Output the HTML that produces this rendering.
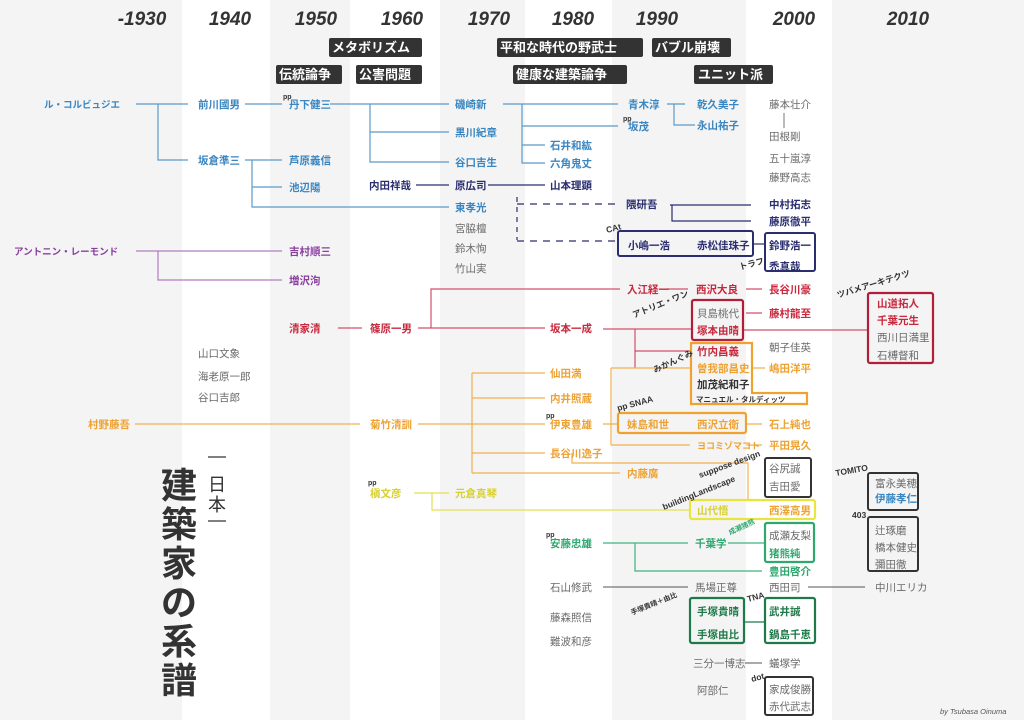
<!DOCTYPE html>
<html><head><meta charset="utf-8"><style>
html,body{margin:0;padding:0;width:1024px;height:720px;overflow:hidden;background:#f4f4f5}
svg{display:block}
text{font-family:"Liberation Sans","Noto Sans CJK JP",sans-serif;font-size:10.5px;font-weight:bold}
.h{font-size:19px;font-style:italic;fill:#333;text-anchor:middle}
.tg{fill:#fff;font-size:13px}
.b{fill:#3a86c0}.n{fill:#2a2d6e}.p{fill:#8a3fa0}.r{fill:#c8283c}.o{fill:#eea232}.y{fill:#d8d030}.g{fill:#2fa870}.dg{fill:#1f7a4a}.gr{fill:#6a6a6a;font-weight:normal}.k{fill:#333}
.s{font-size:7px;fill:#333}
.lb{font-size:8.5px;fill:#333}
.tt{font-size:36px;font-weight:bold;fill:#333}
</style></head><body>
<svg width="1024" height="720" viewBox="0 0 1024 720">
<rect x="0" y="0" width="1024" height="720" fill="#f4f4f5"/>
<rect x="182" y="0" width="88" height="720" fill="#fff"/>
<rect x="350" y="0" width="90" height="720" fill="#fff"/>
<rect x="525" y="0" width="87" height="720" fill="#fff"/>
<rect x="746" y="0" width="86" height="720" fill="#fff"/>

<text class="h" x="142" y="25">-1930</text>
<text class="h" x="230" y="25">1940</text>
<text class="h" x="316" y="25">1950</text>
<text class="h" x="402" y="25">1960</text>
<text class="h" x="489" y="25">1970</text>
<text class="h" x="573" y="25">1980</text>
<text class="h" x="657" y="25">1990</text>
<text class="h" x="794" y="25">2000</text>
<text class="h" x="908" y="25">2010</text>

<g fill="#333">
<rect x="329" y="38" width="93" height="19" rx="2"/>
<rect x="276" y="65" width="66" height="19" rx="2"/>
<rect x="356" y="65" width="66" height="19" rx="2"/>
<rect x="497" y="38" width="146" height="19" rx="2"/>
<rect x="652" y="38" width="79" height="19" rx="2"/>
<rect x="513" y="65" width="114" height="19" rx="2"/>
<rect x="694" y="65" width="79" height="19" rx="2"/>
</g>
<text class="tg" x="332" y="52">メタボリズム</text>
<text class="tg" x="279" y="79">伝統論争</text>
<text class="tg" x="359" y="79">公害問題</text>
<text class="tg" x="500" y="52">平和な時代の野武士</text>
<text class="tg" x="655" y="52">バブル崩壊</text>
<text class="tg" x="516" y="79">健康な建築論争</text>
<text class="tg" x="698" y="79">ユニット派</text>

<g stroke="#5a9ac8" stroke-width="1.2" fill="none">
<path d="M136 104H188M158 104V160H188"/>
<path d="M245 104H282"/>
<path d="M330 104H449M370 104V162H449M370 132H449"/>
<path d="M503 104H618M522 104V163H545M522 126H618M522 145H545"/>
<path d="M667 104H685M674 104V125H695"/>
<path d="M245 160H282M252 160V207H449M252 187H282"/>
</g>
<line x1="784" y1="113" x2="784" y2="128" stroke="#777" stroke-width="1"/>
<g stroke="#2a2d6e" stroke-width="1.2" fill="none">
<path d="M416 185H449M488 185H545"/>
<path d="M517 197V240" stroke-dasharray="5 5"/>
<path d="M517 204H620M517 241H617" stroke-dasharray="7 6"/>
<path d="M670 205H751M672 205V221H751"/>
<path d="M753 244H765"/>
<rect x="618" y="231" width="135" height="25" rx="2" stroke-width="2"/>
<rect x="765" y="233" width="50" height="38" rx="2" stroke-width="2"/>
</g>
<g stroke="#b07cc0" stroke-width="1.2" fill="none">
<path d="M136 251H282M158 251V280H282"/>
</g>
<g stroke="#d0506a" stroke-width="1.2" fill="none">
<path d="M338 328H362M418 328H545M431 328V289H620M667 289H688M746 289H762"/>
<path d="M603 329H692M635 329V368M635 351H692M743 330H868M746 313H762"/>
<rect x="692" y="300" width="51" height="40" rx="2" stroke="#b01e3a" stroke-width="2.2"/>
<rect x="868" y="293" width="65" height="70" rx="2" stroke="#b01e3a" stroke-width="2.2"/>
</g>
<g stroke="#f0b050" stroke-width="1.2" fill="none">
<path d="M135 424H360M418 424H545M472 373V473M472 373H545M472 398H545M472 453H545M472 473H620"/>
<path d="M611 368V445M611 368H690M611 445H690M746 445H762M753 368H765"/>
<path d="M603 424H618M746 424H762"/>
<path d="M572 453V463H748V500"/>
<path d="M691 343H752V393H807V404H691Z" stroke="#eea232" stroke-width="2.2"/>
<rect x="618" y="413" width="128" height="20" rx="2" stroke="#eea232" stroke-width="2.2"/>
</g>
<rect x="765" y="458" width="46" height="39" rx="2" fill="none" stroke="#333" stroke-width="2"/>
<g stroke="#e4e050" stroke-width="1.2" fill="none">
<path d="M414 493H449M432 493V510H690"/>
<rect x="690" y="500" width="125" height="19" rx="2" stroke="#e8e440" stroke-width="2.2"/>
</g>
<rect x="868" y="473" width="50" height="37" rx="2" fill="none" stroke="#333" stroke-width="2"/>
<rect x="868" y="517" width="50" height="54" rx="2" fill="none" stroke="#333" stroke-width="2"/>
<g stroke="#40b080" stroke-width="1.2" fill="none">
<path d="M603 543H688M728 543H765M635 543V571H762"/>
<rect x="765" y="523" width="49" height="39" rx="2" stroke="#2fa870" stroke-width="2.2"/>
</g>
<g stroke="#555" stroke-width="1" fill="none"><path d="M603 587H688M808 587H865M745 663H762"/></g>
<g stroke="#1f7a4a" stroke-width="2.2" fill="none">
<rect x="690" y="598" width="54" height="45" rx="2"/>
<rect x="765" y="598" width="50" height="45" rx="2"/>
<path d="M744 622H765" stroke-width="1.2"/>
</g>
<rect x="765" y="677" width="48" height="38" rx="2" fill="none" stroke="#333" stroke-width="2"/>

<text class="b" x="44" y="108" style="font-size:9.5px">ル・コルビュジエ</text>
<text class="b" x="198" y="108">前川國男</text>
<text class="s" x="283" y="99">pp</text>
<text class="b" x="289" y="108">丹下健三</text>
<text class="b" x="455" y="108">磯崎新</text>
<text class="b" x="455" y="136">黒川紀章</text>
<text class="b" x="455" y="166">谷口吉生</text>
<text class="b" x="628" y="108">青木淳</text>
<text class="s" x="623" y="121">pp</text>
<text class="b" x="628" y="130">坂茂</text>
<text class="b" x="550" y="149">石井和紘</text>
<text class="b" x="550" y="167">六角鬼丈</text>
<text class="b" x="697" y="108">乾久美子</text>
<text class="b" x="697" y="129">永山祐子</text>
<text class="b" x="198" y="164">坂倉準三</text>
<text class="b" x="289" y="164">芦原義信</text>
<text class="b" x="289" y="191">池辺陽</text>
<text class="b" x="455" y="211">東孝光</text>
<text class="gr" x="769" y="108">藤本壮介</text>
<text class="gr" x="769" y="140">田根剛</text>
<text class="gr" x="769" y="162">五十嵐淳</text>
<text class="gr" x="769" y="181">藤野高志</text>
<text class="gr" x="455" y="232">宮脇檀</text>
<text class="gr" x="455" y="252">鈴木恂</text>
<text class="gr" x="455" y="272">竹山実</text>
<text class="n" x="369" y="189">内田祥哉</text>
<text class="n" x="455" y="189">原広司</text>
<text class="n" x="550" y="189">山本理顕</text>
<text class="n" x="626" y="208">隈研吾</text>
<text class="n" x="769" y="208">中村拓志</text>
<text class="n" x="769" y="225">藤原徹平</text>
<text class="n" x="628" y="249">小嶋一浩</text>
<text class="n" x="697" y="249">赤松佳珠子</text>
<text class="n" x="769" y="249">鈴野浩一</text>
<text class="n" x="769" y="270">禿真哉</text>
<text class="lb" x="607" y="233" transform="rotate(-15 607 233)">CAt</text>
<text class="lb" x="740" y="270" transform="rotate(-15 740 270)">トラフ</text>
<text class="p" x="14" y="255" style="font-size:9.5px">アントニン・レーモンド</text>
<text class="p" x="289" y="255">吉村順三</text>
<text class="p" x="289" y="284">増沢洵</text>
<text class="r" x="289" y="332">清家清</text>
<text class="r" x="370" y="332">篠原一男</text>
<text class="r" x="627" y="293">入江経一</text>
<text class="r" x="696" y="293">西沢大良</text>
<text class="r" x="769" y="293">長谷川豪</text>
<text class="r" x="550" y="332">坂本一成</text>
<text class="gr" x="697" y="317">貝島桃代</text>
<text class="r" x="697" y="334">塚本由晴</text>
<text class="r" x="769" y="317">藤村龍至</text>
<text class="r" x="877" y="307">山道拓人</text>
<text class="r" x="877" y="324">千葉元生</text>
<text class="gr" x="877" y="341">西川日満里</text>
<text class="gr" x="877" y="359">石榑督和</text>
<text class="gr" x="769" y="351">朝子佳英</text>
<text class="lb" x="634" y="318" transform="rotate(-22 634 318)">アトリエ・ワン</text>
<text class="lb" x="838" y="298" transform="rotate(-17 838 298)">ツバメアーキテクツ</text>
<text class="o" x="88" y="428">村野藤吾</text>
<text class="o" x="370" y="428">菊竹清訓</text>
<text class="o" x="550" y="377">仙田満</text>
<text class="o" x="550" y="402">内井照蔵</text>
<text class="s" x="546" y="418">pp</text>
<text class="o" x="550" y="428">伊東豊雄</text>
<text class="o" x="550" y="457">長谷川逸子</text>
<text class="o" x="627" y="477">内藤廣</text>
<text class="r" x="697" y="355">竹内昌義</text>
<text class="o" x="697" y="372">曽我部昌史</text>
<text class="k" x="697" y="388">加茂紀和子</text>
<text class="k" x="696" y="402" style="font-size:7.5px">マニュエル・タルディッツ</text>
<text class="o" x="769" y="372">嶋田洋平</text>
<text class="o" x="627" y="428">妹島和世</text>
<text class="o" x="697" y="428">西沢立衛</text>
<text class="o" x="769" y="428">石上純也</text>
<text class="o" x="697" y="449" style="font-size:9px">ヨコミゾマコト</text>
<text class="o" x="769" y="449">平田晃久</text>
<text class="lb" x="655" y="373" transform="rotate(-25 655 373)">みかんぐみ</text>
<text class="lb" x="618" y="411" transform="rotate(-15 618 411)">pp SNAA</text>
<text class="gr" x="769" y="472">谷尻誠</text>
<text class="gr" x="769" y="490">吉田愛</text>
<text class="lb" x="700" y="478" transform="rotate(-20 700 478)">suppose design</text>
<text class="s" x="368" y="485">pp</text>
<text class="y" x="370" y="497">槇文彦</text>
<text class="y" x="455" y="497">元倉真琴</text>
<text class="y" x="697" y="514">山代悟</text>
<text class="o" x="769" y="514">西澤高男</text>
<text class="lb" x="664" y="510" transform="rotate(-22 664 510)">buildingLandscape</text>
<text class="gr" x="875" y="487">富永美穂</text>
<text class="b" x="875" y="502">伊藤孝仁</text>
<text class="lb" x="836" y="476" transform="rotate(-10 836 476)">TOMITO</text>
<text class="gr" x="875" y="534">辻琢磨</text>
<text class="gr" x="875" y="551">橋本健史</text>
<text class="gr" x="875" y="568">彌田徹</text>
<text class="lb" x="852" y="518">403</text>
<text class="s" x="546" y="537">pp</text>
<text class="g" x="550" y="547">安藤忠雄</text>
<text class="g" x="695" y="547">千葉学</text>
<text class="gr" x="769" y="539">成瀬友梨</text>
<text class="g" x="769" y="557">猪熊純</text>
<text class="g" x="769" y="575">豊田啓介</text>
<text class="g" x="730" y="535" style="font-size:7px" transform="rotate(-25 730 535)">成瀬猪熊</text>
<text class="gr" x="550" y="591">石山修武</text>
<text class="gr" x="695" y="591">馬場正尊</text>
<text class="gr" x="769" y="591">西田司</text>
<text class="gr" x="875" y="591">中川エリカ</text>
<text class="dg" x="697" y="615">手塚貴晴</text>
<text class="dg" x="697" y="638">手塚由比</text>
<text class="dg" x="769" y="615">武井誠</text>
<text class="dg" x="769" y="638">鍋島千恵</text>
<text class="lb" x="632" y="615" style="font-size:7px" transform="rotate(-22 632 615)">手塚貴晴＋由比</text>
<text class="lb" x="748" y="602" transform="rotate(-15 748 602)">TNA</text>
<text class="gr" x="550" y="621">藤森照信</text>
<text class="gr" x="550" y="645">難波和彦</text>
<text class="gr" x="693" y="667">三分一博志</text>
<text class="gr" x="769" y="667">蟻塚学</text>
<text class="gr" x="697" y="694">阿部仁</text>
<text class="lb" x="752" y="682" transform="rotate(-15 752 682)">dot</text>
<text class="gr" x="769" y="693">家成俊勝</text>
<text class="gr" x="769" y="710">赤代武志</text>
<text class="gr" x="198" y="357">山口文象</text>
<text class="gr" x="198" y="380">海老原一郎</text>
<text class="gr" x="198" y="401">谷口吉郎</text>

<text class="tt" x="161" y="498">建</text>
<text class="tt" x="161" y="537">築</text>
<text class="tt" x="161" y="576">家</text>
<text class="tt" x="161" y="615">の</text>
<text class="tt" x="161" y="654">系</text>
<text class="tt" x="161" y="693">譜</text>
<text x="208" y="491" style="font-size:18px;font-weight:normal" fill="#333">日</text>
<text x="208" y="511" style="font-size:18px;font-weight:normal" fill="#333">本</text>
<path d="M208 457H226M208 521H226" stroke="#333" stroke-width="1.2"/>
<text x="940" y="714" style="font-size:7.5px;font-style:italic;font-weight:normal" fill="#555">by Tsubasa Oinuma</text>
</svg>
</body></html>
